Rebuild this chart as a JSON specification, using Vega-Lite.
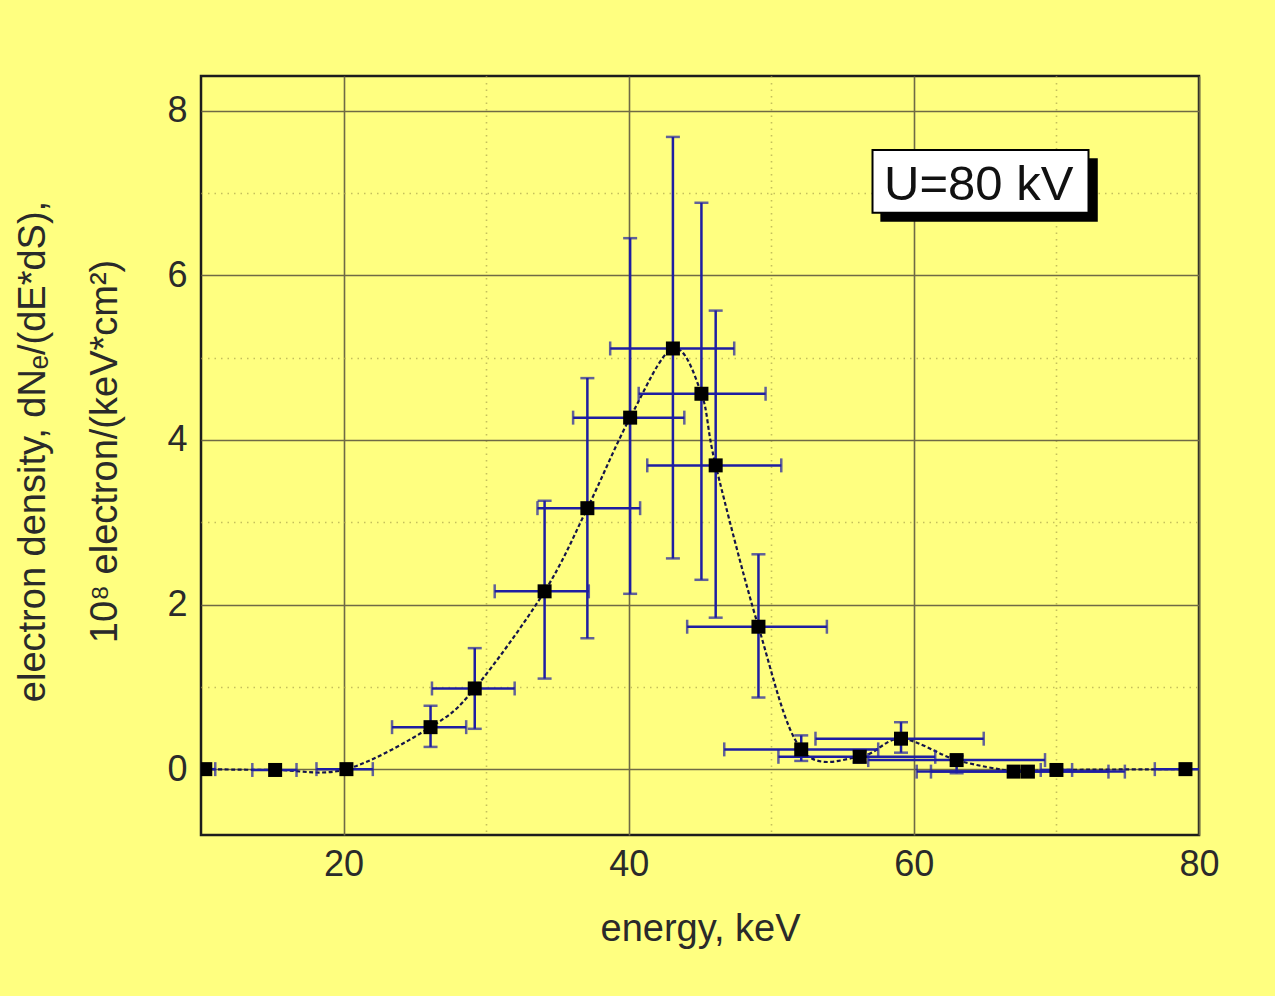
{
  "$schema": "https://vega.github.io/schema/vega-lite/v6.json",
  "width": 998,
  "height": 759,
  "autosize": {"type": "none"},
  "padding": {"left": 201, "top": 76, "right": 76, "bottom": 161},
  "background": "#ffff80",
  "config": {
    "font": "Liberation Sans",
    "view": {"stroke": "#1c1c1c", "strokeWidth": 2.5},
    "axis": {
      "ticks": false,
      "domain": false,
      "grid": true,
      "format": "d",
      "labelFlush": false,
      "labelOverlap": false,
      "labelFont": "Liberation Sans",
      "titleFont": "Liberation Sans",
      "labelFontSize": 36,
      "titleFontSize": 38,
      "titleFontWeight": "normal",
      "labelColor": "#2a2a2a",
      "titleColor": "#2a2a2a",
      "gridWidth": 1.6
    }
  },
  "data": {
    "values": [
      {"e": 10.3, "v": 0.0, "elo": 9.6, "ehi": 11.0, "vlo": null, "vhi": null},
      {"e": 15.2, "v": -0.01, "elo": 13.6, "ehi": 16.7, "vlo": null, "vhi": null},
      {"e": 20.2, "v": 0.0, "elo": 18.1, "ehi": 22.05, "vlo": null, "vhi": null},
      {"e": 26.1, "v": 0.51, "elo": 23.4, "ehi": 28.6, "vlo": 0.27, "vhi": 0.77},
      {"e": 29.2, "v": 0.98, "elo": 26.2, "ehi": 32.0, "vlo": 0.49, "vhi": 1.47},
      {"e": 34.1, "v": 2.16, "elo": 30.6, "ehi": 37.2, "vlo": 1.1, "vhi": 3.26},
      {"e": 37.1, "v": 3.17, "elo": 33.6, "ehi": 40.8, "vlo": 1.59, "vhi": 4.75},
      {"e": 40.1, "v": 4.27, "elo": 36.1, "ehi": 43.9, "vlo": 2.13, "vhi": 6.45},
      {"e": 43.1, "v": 5.11, "elo": 38.7, "ehi": 47.4, "vlo": 2.56, "vhi": 7.68},
      {"e": 45.1, "v": 4.56, "elo": 40.7, "ehi": 49.6, "vlo": 2.3, "vhi": 6.88},
      {"e": 46.1, "v": 3.69, "elo": 41.3, "ehi": 50.7, "vlo": 1.84, "vhi": 5.57},
      {"e": 49.1, "v": 1.73, "elo": 44.1, "ehi": 53.9, "vlo": 0.87, "vhi": 2.61},
      {"e": 52.1, "v": 0.24, "elo": 46.7, "ehi": 57.5, "vlo": 0.1, "vhi": 0.41},
      {"e": 56.2, "v": 0.15, "elo": 50.5, "ehi": 61.5, "vlo": 0.08, "vhi": 0.22},
      {"e": 59.1, "v": 0.37, "elo": 53.1, "ehi": 64.9, "vlo": 0.2, "vhi": 0.57},
      {"e": 63.0, "v": 0.11, "elo": 56.8, "ehi": 69.2, "vlo": -0.05, "vhi": 0.16},
      {"e": 67.0, "v": -0.03, "elo": 60.2, "ehi": 73.65, "vlo": null, "vhi": null},
      {"e": 68.0, "v": -0.03, "elo": 61.2, "ehi": 74.8, "vlo": null, "vhi": null},
      {"e": 70.0, "v": -0.01, "elo": 68.9, "ehi": 71.1, "vlo": null, "vhi": null},
      {"e": 79.05, "v": 0.0, "elo": 76.9, "ehi": 81.2, "vlo": null, "vhi": null}
    ]
  },
  "layer": [
    {
      "mark": {"type": "line", "interpolate": "cardinal", "color": "#14144a", "strokeWidth": 2.2, "strokeDash": [4, 2.5], "clip": true},
      "encoding": {
        "x": {
          "field": "e", "type": "quantitative",
          "scale": {"domain": [10, 80], "nice": false, "zero": false},
          "axis": {
            "title": "energy, keV",
            "values": [20, 30, 40, 50, 60, 70, 80],
            "labelExpr": "datum.value % 20 === 0 ? datum.label : ''",
            "gridColor": {"condition": {"test": "datum.value % 20 === 0", "value": "#6f6a45"}, "value": "#c4bf5c"},
            "gridDash": {"condition": {"test": "datum.value % 20 === 0", "value": []}, "value": [1.5, 5]},
            "labelPadding": 12,
            "titlePadding": 28
          }
        },
        "y": {
          "field": "v", "type": "quantitative",
          "scale": {"domain": [-0.8, 8.42], "nice": false, "zero": false},
          "axis": {
            "title": ["electron density, dNₑ/(dE*dS),", "10⁸ electron/(keV*cm²)"],
            "values": [0, 1, 2, 3, 4, 5, 6, 7, 8],
            "labelExpr": "datum.value % 2 === 0 ? datum.label : ''",
            "gridColor": {"condition": {"test": "datum.value % 2 === 0", "value": "#6f6a45"}, "value": "#c4bf5c"},
            "gridDash": {"condition": {"test": "datum.value % 2 === 0", "value": []}, "value": [1.5, 5]},
            "labelPadding": 14,
            "titleAngle": -90,
            "titleAlign": "center",
            "titleBaseline": "bottom",
            "titleX": -149,
            "titleY": 375,
            "titleLineHeight": 72
          }
        }
      }
    },
    {
      "mark": {"type": "rule", "color": "#1e1ea2", "strokeWidth": 2.5, "clip": true},
      "encoding": {
        "x": {"field": "elo", "type": "quantitative"},
        "x2": {"field": "ehi"},
        "y": {"field": "v", "type": "quantitative"}
      }
    },
    {
      "mark": {"type": "tick", "orient": "vertical", "color": "#1e1ea2", "size": 14, "thickness": 2.5, "clip": true},
      "encoding": {
        "x": {"field": "elo", "type": "quantitative"},
        "y": {"field": "v", "type": "quantitative"}
      }
    },
    {
      "mark": {"type": "tick", "orient": "vertical", "color": "#1e1ea2", "size": 14, "thickness": 2.5, "clip": true},
      "encoding": {
        "x": {"field": "ehi", "type": "quantitative"},
        "y": {"field": "v", "type": "quantitative"}
      }
    },
    {
      "transform": [{"filter": "isValid(datum.vlo)"}],
      "mark": {"type": "rule", "color": "#1e1ea2", "strokeWidth": 2.5, "clip": true},
      "encoding": {
        "x": {"field": "e", "type": "quantitative"},
        "y": {"field": "vlo", "type": "quantitative"},
        "y2": {"field": "vhi"}
      }
    },
    {
      "transform": [{"filter": "isValid(datum.vlo)"}],
      "mark": {"type": "tick", "orient": "horizontal", "color": "#1e1ea2", "size": 14, "thickness": 2.5, "clip": true},
      "encoding": {
        "x": {"field": "e", "type": "quantitative"},
        "y": {"field": "vlo", "type": "quantitative"}
      }
    },
    {
      "transform": [{"filter": "isValid(datum.vhi)"}],
      "mark": {"type": "tick", "orient": "horizontal", "color": "#1e1ea2", "size": 14, "thickness": 2.5, "clip": true},
      "encoding": {
        "x": {"field": "e", "type": "quantitative"},
        "y": {"field": "vhi", "type": "quantitative"}
      }
    },
    {
      "mark": {"type": "square", "size": 196, "filled": true, "color": "#000000", "opacity": 1, "clip": true},
      "encoding": {
        "x": {"field": "e", "type": "quantitative"},
        "y": {"field": "v", "type": "quantitative"}
      }
    },
    {
      "data": {"values": [{}]},
      "mark": {"type": "rect", "color": "#000000"},
      "encoding": {
        "x": {"datum": 57.65, "type": "quantitative"},
        "x2": {"datum": 72.9},
        "y": {"datum": 7.42, "type": "quantitative"},
        "y2": {"datum": 6.65}
      }
    },
    {
      "data": {"values": [{}]},
      "mark": {"type": "rect", "fill": "#ffffff", "stroke": "#000000", "strokeWidth": 2},
      "encoding": {
        "x": {"datum": 57.1, "type": "quantitative"},
        "x2": {"datum": 72.25},
        "y": {"datum": 7.52, "type": "quantitative"},
        "y2": {"datum": 6.76}
      }
    },
    {
      "data": {"values": [{}]},
      "mark": {"type": "text", "text": "U=80 kV", "fontSize": 49, "font": "Liberation Sans", "color": "#111111", "align": "center", "baseline": "alphabetic"},
      "encoding": {
        "x": {"datum": 64.55, "type": "quantitative"},
        "y": {"datum": 6.91, "type": "quantitative"}
      }
    }
  ]
}
